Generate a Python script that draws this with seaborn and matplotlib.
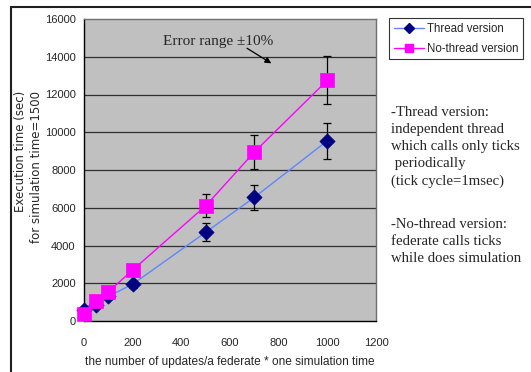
import matplotlib
matplotlib.use("Agg")
import matplotlib.pyplot as plt
from matplotlib.lines import Line2D
import numpy as np
import pandas as pd
import seaborn as sns

# updates per federate * one simulation time
updates = [0, 50, 100, 200, 500, 700, 1000]
# execution time (sec) for simulation time = 1500
thread_time = [600, 850, 1300, 1950, 4700, 6550, 9550]
nothread_time = [350, 1050, 1550, 2700, 6100, 8950, 12750]
series_names = ["Thread version", "No-thread version"]
error_fraction = 0.10

x_ticks = [0, 200, 400, 600, 800, 1000, 1200]
y_ticks = [0, 2000, 4000, 6000, 8000, 10000, 12000, 14000, 16000]

df = pd.DataFrame({
    "updates": updates * 2,
    "time": thread_time + nothread_time,
    "version": [series_names[0]] * len(updates) + [series_names[1]] * len(updates),
})

sns.set_style("white")
plt.rcParams["font.family"] = ["Liberation Sans", "DejaVu Sans"]

fig = plt.figure(figsize=(5.31, 3.72), dpi=100)
ax = fig.add_axes([84 / 531, 1 - 321 / 372, 292 / 531, 302 / 372])
ax.set_facecolor("#C0C0C0")

line_colors = {series_names[0]: "#5F86FF", series_names[1]: "#FF00FF"}
marker_colors = {series_names[0]: "#000080", series_names[1]: "#FF00FF"}
marker_shapes = {series_names[0]: "D", series_names[1]: "s"}
marker_sizes = {series_names[0]: 60, series_names[1]: 95}

# horizontal grid lines
for yv in y_ticks[1:-1]:
    ax.axhline(yv, color="#303030", lw=0.9, zorder=1)

sns.lineplot(data=df, x="updates", y="time", hue="version", palette=line_colors,
             lw=1.0, legend=False, ax=ax, zorder=2)

for name in series_names:
    sub = df[df["version"] == name]
    ax.errorbar(sub["updates"], sub["time"], yerr=sub["time"] * error_fraction,
                fmt="none", ecolor="black", elinewidth=0.9, capsize=3,
                capthick=0.9, zorder=3, clip_on=False)
    sns.scatterplot(data=sub, x="updates", y="time", marker=marker_shapes[name],
                    s=marker_sizes[name], color=marker_colors[name],
                    edgecolor=marker_colors[name], linewidth=0.5,
                    legend=False, ax=ax, zorder=4, clip_on=False)

ax.set_xlim(0, 1200)
ax.set_ylim(0, 16000)
ax.set_xticks(x_ticks)
ax.set_yticks(y_ticks)
ax.set_xticklabels([str(t) for t in x_ticks], fontsize=8)
ax.set_yticklabels([str(t) for t in y_ticks], fontsize=8)
ax.tick_params(axis="x", direction="in", length=4, width=0.8, color="black", pad=12)
ax.tick_params(axis="y", direction="out", length=2, width=0.8, color="black", pad=4)
ax.set_xlabel("")
ax.set_ylabel("")

for side in ["left", "bottom"]:
    ax.spines[side].set_color("black")
    ax.spines[side].set_linewidth(1.0)
for side in ["top", "right"]:
    ax.spines[side].set_color("#707070")
    ax.spines[side].set_linewidth(1.0)

# axis titles
fig.text(230 / 531, 1 - 362 / 372, "the number of updates/a federate * one simulation time",
         ha="center", va="center", fontsize=8.6)
fig.text(29 / 531, 1 - 167 / 372, "Execution time (sec)\nfor simulation time=1500",
         ha="center", va="center", rotation=90, multialignment="right",
         fontsize=8.5, family=["DejaVu Sans"], linespacing=1.3)

# error range annotation
ax.annotate("", xy=(770, 13650), xytext=(670, 14450),
            arrowprops=dict(arrowstyle="-|>", color="black", lw=0.9,
                            mutation_scale=9, shrinkA=0, shrinkB=0))
ax.text(550, 14830, "Error range \u00b110%", ha="center", va="center",
        fontsize=11, family=["Liberation Serif"])

# legend
handles = [
    Line2D([], [], color=line_colors[n], marker=marker_shapes[n],
           markerfacecolor=marker_colors[n], markeredgecolor=marker_colors[n],
           markersize=5 if n == series_names[0] else 5.5, lw=1.0)
    for n in series_names
]
leg = fig.legend(handles, series_names, loc="upper left",
                 bbox_to_anchor=(389 / 531, 1 - 18 / 372), fontsize=8.3,
                 frameon=True, fancybox=False, handlelength=2.6,
                 handletextpad=0.3, borderpad=0.4, labelspacing=0.7,
                 borderaxespad=0)
leg.get_frame().set_edgecolor("black")
leg.get_frame().set_linewidth(0.8)

# explanatory notes
fig.text(391 / 531, 1 - 106 / 372,
         "-Thread version:\nindependent thread\nwhich calls only ticks\n periodically\n(tick cycle=1msec)",
         ha="left", va="top", fontsize=10.6, family=["Liberation Serif"], linespacing=1.4)
fig.text(391 / 531, 1 - 218 / 372,
         "-No-thread version:\nfederate calls ticks\nwhile does simulation",
         ha="left", va="top", fontsize=10.6, family=["Liberation Serif"], linespacing=1.4)

# outer frame
fig.add_artist(Line2D([11 / 531, 1.0], [1 - 7 / 372, 1 - 7 / 372],
                      transform=fig.transFigure, color="#202020", lw=1.5))
fig.add_artist(Line2D([11 / 531, 11 / 531], [0.0, 1 - 7 / 372],
                      transform=fig.transFigure, color="#202020", lw=1.5))

fig.savefig("out.png", dpi=100, facecolor="white")
